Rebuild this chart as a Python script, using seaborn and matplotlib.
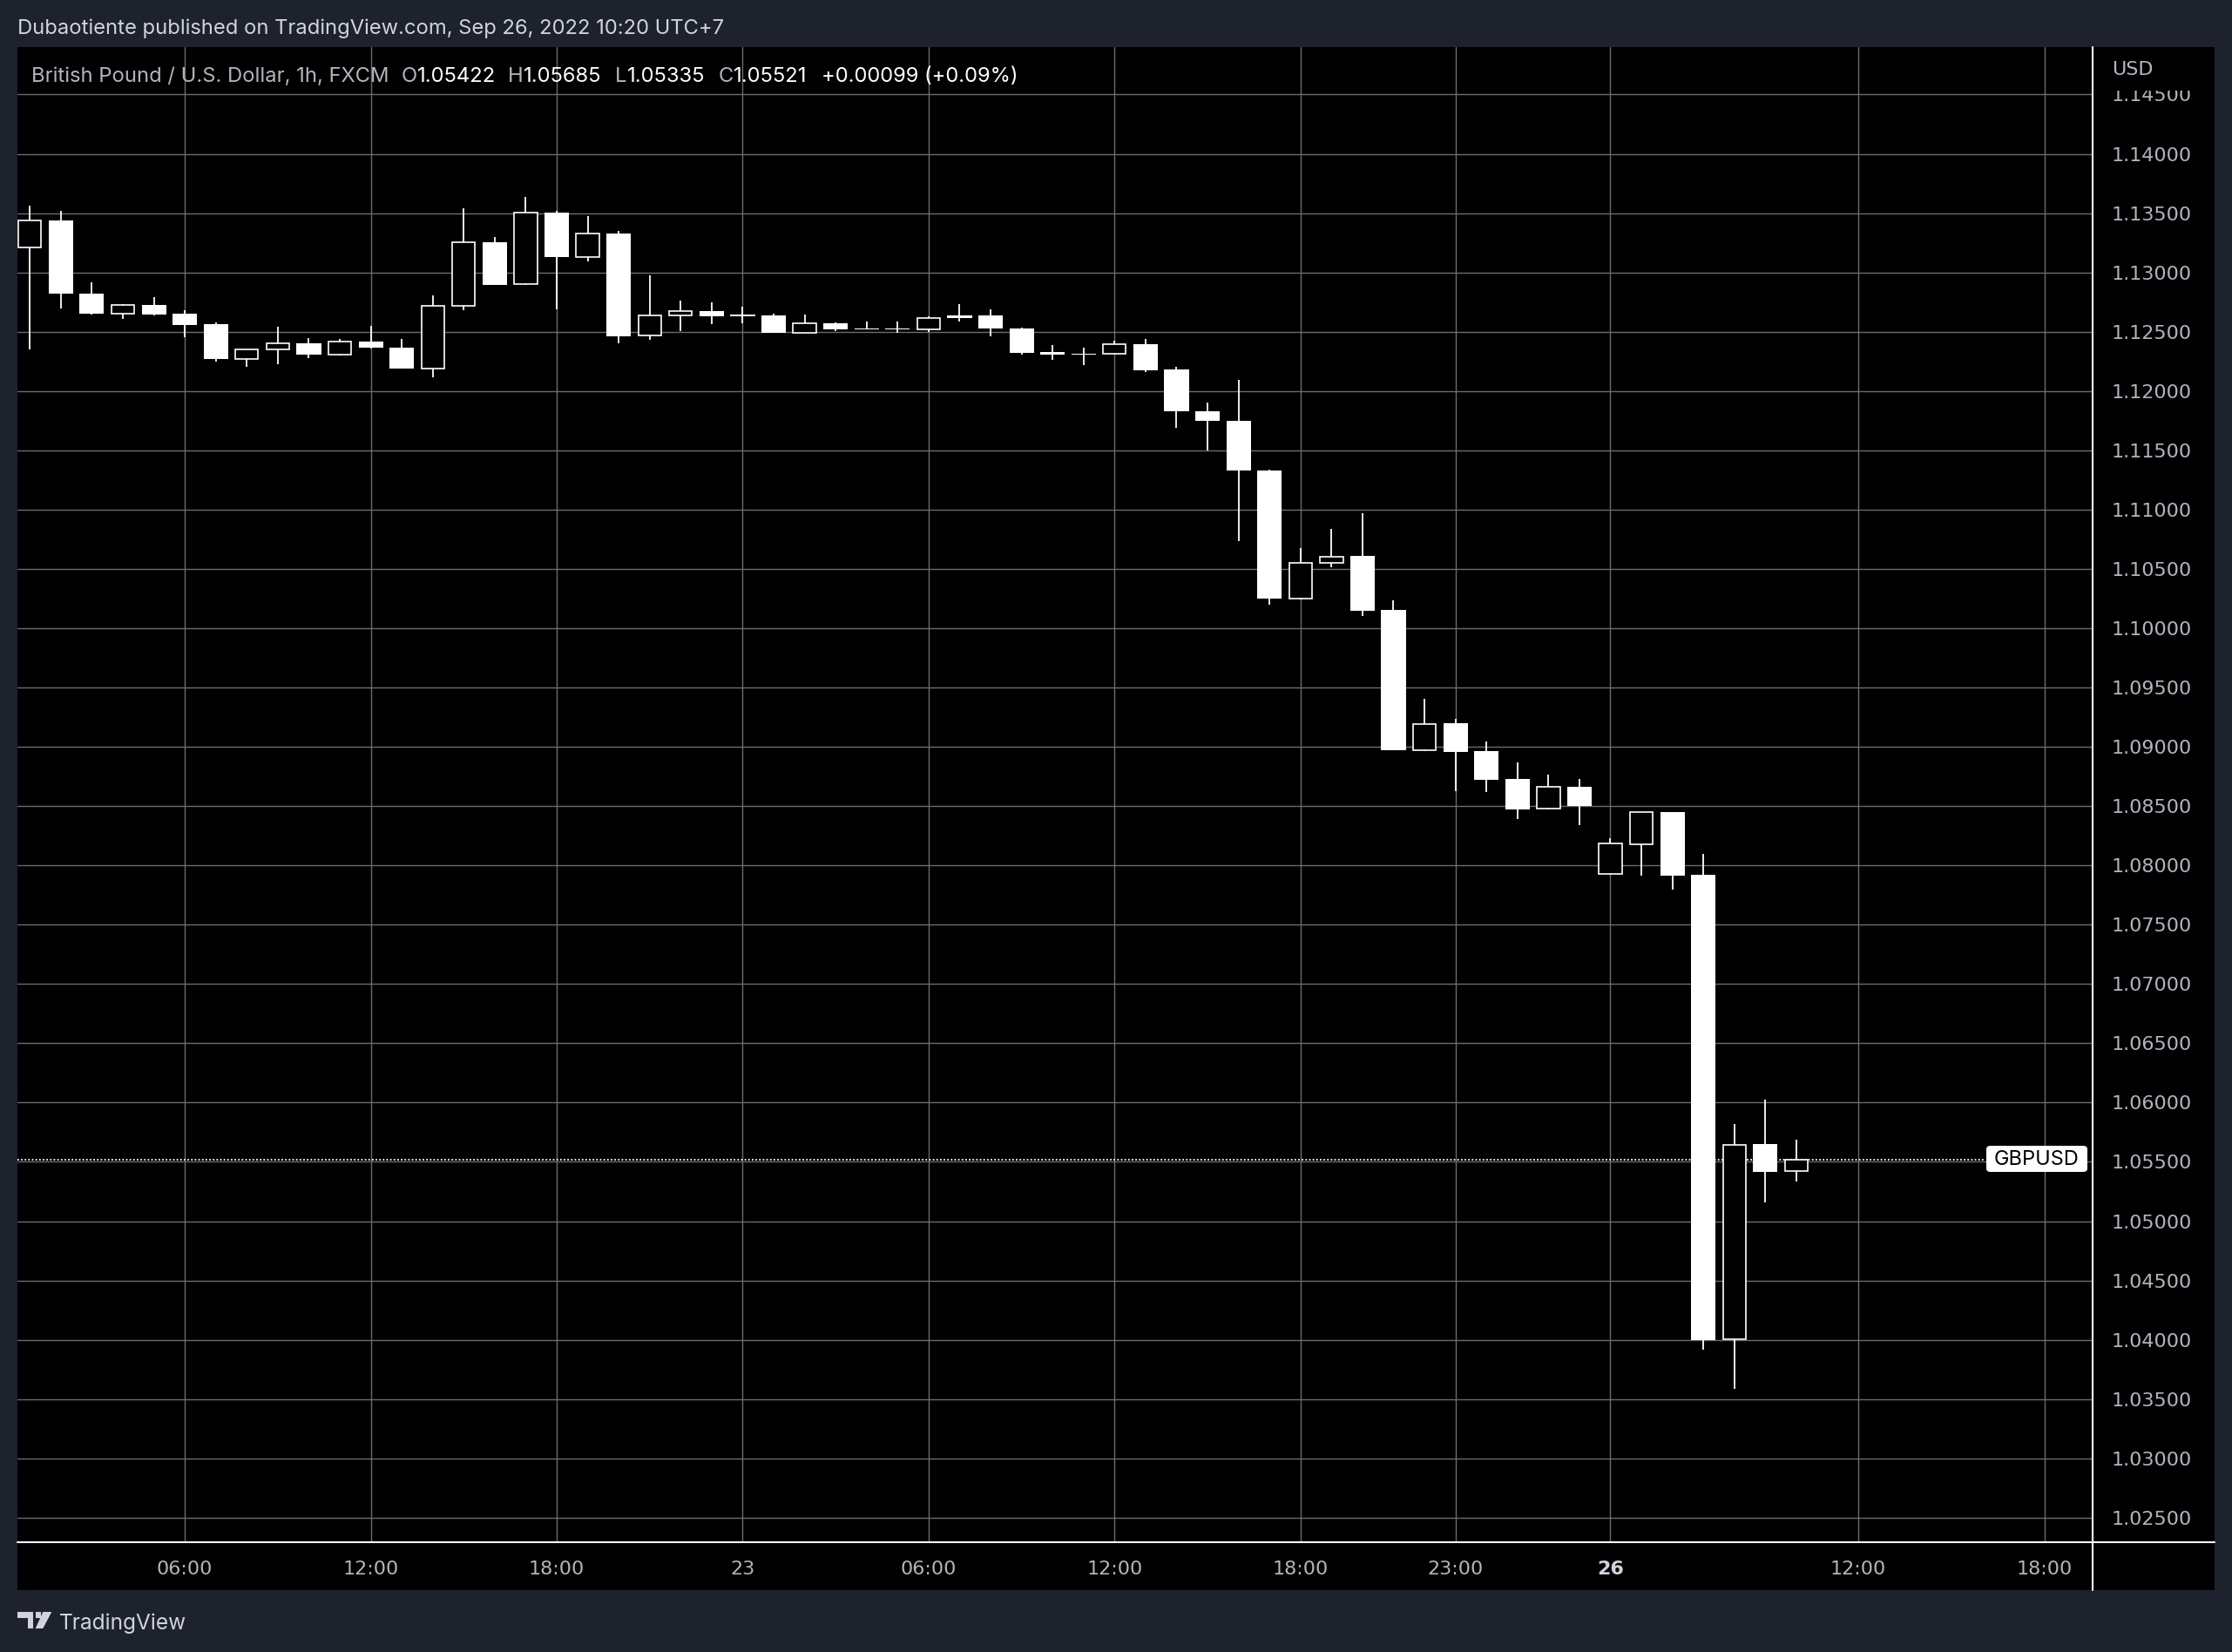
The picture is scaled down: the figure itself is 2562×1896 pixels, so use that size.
import numpy as np
import pandas as pd
import seaborn as sns
import matplotlib
matplotlib.use("Agg")
import matplotlib.pyplot as plt
from matplotlib.patches import Rectangle, Polygon, FancyBboxPatch
from matplotlib.lines import Line2D

# ---------------- data (GBPUSD 1h, FXCM) ----------------
opens = [1.13209, 1.13439, 1.12823, 1.12649, 1.12727, 1.12654, 1.12566, 1.12270, 1.12351, 1.12405,
         1.12304, 1.12419, 1.12368, 1.12187, 1.12715, 1.13256, 1.12899, 1.13505, 1.13133, 1.13329,
         1.12466, 1.12634, 1.12676, 1.12644, 1.12639, 1.12490, 1.12573, 1.12529, 1.12527, 1.12517,
         1.12637, 1.12637, 1.12529, 1.12331, 1.12317, 1.12312, 1.12394, 1.12183, 1.11831, 1.11751,
         1.11333, 1.10252, 1.10553, 1.10606, 1.10152, 1.08974, 1.09197, 1.08962, 1.08727, 1.08476,
         1.08661, 1.07925, 1.08180, 1.08449, 1.07921, 1.04002, 1.05650, 1.05422]
highs = [1.13564, 1.13520, 1.12918, 1.12735, 1.12793, 1.12683, 1.12581, 1.12353, 1.12544, 1.12449,
         1.12441, 1.12551, 1.12441, 1.12808, 1.13542, 1.13300, 1.13637, 1.13520, 1.13476, 1.13351,
         1.12977, 1.12764, 1.12749, 1.12713, 1.12654, 1.12647, 1.12581, 1.12588, 1.12588, 1.12630,
         1.12735, 1.12691, 1.12537, 1.12390, 1.12368, 1.12427, 1.12440, 1.12205, 1.11905, 1.12095,
         1.11335, 1.10672, 1.10834, 1.10966, 1.10232, 1.09402, 1.09238, 1.09043, 1.08867, 1.08764,
         1.08727, 1.08229, 1.08448, 1.08451, 1.08099, 1.05819, 1.06025, 1.05685]
lows = [1.12348, 1.12698, 1.12645, 1.12605, 1.12634, 1.12451, 1.12246, 1.12202, 1.12224, 1.12275,
        1.12302, 1.12360, 1.12186, 1.12114, 1.12678, 1.12895, 1.12897, 1.12691, 1.13094, 1.12405,
        1.12434, 1.12502, 1.12566, 1.12573, 1.12487, 1.12488, 1.12507, 1.12516, 1.12493, 1.12500,
        1.12588, 1.12463, 1.12309, 1.12260, 1.12221, 1.12310, 1.12156, 1.11687, 1.11496, 1.10733,
        1.10198, 1.10244, 1.10513, 1.10105, 1.08970, 1.08965, 1.08625, 1.08617, 1.08390, 1.08474,
        1.08339, 1.07923, 1.07913, 1.07798, 1.03920, 1.03583, 1.05159, 1.05335]
closes = [1.13436, 1.12818, 1.12650, 1.12722, 1.12647, 1.12559, 1.12268, 1.12351, 1.12402, 1.12304,
          1.12417, 1.12363, 1.12189, 1.12718, 1.13251, 1.12898, 1.13502, 1.13131, 1.13326, 1.12463,
          1.12634, 1.12674, 1.12632, 1.12630, 1.12490, 1.12571, 1.12517, 1.12519, 1.12519, 1.12615,
          1.12612, 1.12524, 1.12324, 1.12304, 1.12304, 1.12395, 1.12178, 1.11826, 1.11746, 1.11328,
          1.10249, 1.10550, 1.10601, 1.10147, 1.08972, 1.09194, 1.08957, 1.08722, 1.08471, 1.08659,
          1.08500, 1.08185, 1.08446, 1.07913, 1.03995, 1.05646, 1.05418, 1.05521]

time_tick_pos = [5, 11, 17, 23, 29, 35, 41, 46, 51, 59, 65]
time_tick_labels = ["06:00", "12:00", "18:00", "23", "06:00", "12:00", "18:00", "23:00", "26", "12:00", "18:00"]
price_ticks = [round(1.025 + 0.005 * k, 3) for k in range(25)]

header_text = "Dubaotiente published on TradingView.com, Sep 26, 2022 10:20 UTC+7"
symbol_text = "British Pound / U.S. Dollar, 1h, FXCM"
ohlc_letters = ["O", "H", "L", "C"]
ohlc_values = ["1.05422", "1.05685", "1.05335", "1.05521"]
change_text = "+0.00099 (+0.09%)"

# ---------------- styling ----------------
W, H = 2562, 1896
BG = "#1e222d"
GRAY = "#b2b5be"
LIGHT = "#d1d4dc"

sns.set_style("dark", {"axes.facecolor": "black", "figure.facecolor": BG})
plt.rcParams["font.family"] = ["DejaVu Sans"]

fig = plt.figure(figsize=(W / 100, H / 100), dpi=100)
fig.patch.set_facecolor(BG)


def fx(x):
    return x / W


def fy(y):
    return 1 - y / H


# black chart panel (plot + scales)
fig.add_artist(Rectangle((fx(20), fy(1825)), (2542 - 20) / W, (1825 - 54) / H,
                         transform=fig.transFigure, facecolor="black", edgecolor="none", zorder=-5))

ax = fig.add_axes([fx(20), fy(1770), (2402 - 20) / W, (1770 - 54) / H])
ax.set_facecolor("black")

df = pd.DataFrame({"open": opens, "high": highs, "low": lows, "close": closes})
df["i"] = np.arange(len(df))
up = df["close"] >= df["open"]

# wicks
ax.vlines(df["i"], df["low"], df["high"], color="white", lw=1.3, zorder=3)
# bearish (filled) bodies
dn = df[~up]
ax.bar(dn["i"], dn["open"] - dn["close"], bottom=dn["close"], width=0.79,
       color="white", linewidth=0, zorder=4)
# bullish (hollow) bodies
u = df[up]
ax.bar(u["i"], u["close"] - u["open"], bottom=u["open"], width=0.74,
       facecolor="black", edgecolor="white", linewidth=1.2, zorder=4)

last_close = closes[-1]
ax.axhline(last_close, xmin=0, xmax=(2279 - 20) / (2402 - 20), color="white",
           lw=1.3, ls=(0, (1, 1.3)), zorder=2.5)

ax.set_xlim(-0.402, 66.56)
ax.set_ylim(1.02293, 1.14900)

ax.set_xticks(time_tick_pos)
ax.set_xticklabels(time_tick_labels)
ax.set_yticks(price_ticks)
ax.set_yticklabels([f"{v:.5f}" for v in price_ticks])
ax.yaxis.tick_right()
ax.tick_params(axis="y", length=0, pad=15.5, labelsize=16, labelcolor=GRAY)
ax.tick_params(axis="x", length=0, pad=15, labelsize=16, labelcolor=GRAY)
for lab in ax.get_xticklabels():
    if lab.get_text() == "26":
        lab.set_fontweight("bold")
        lab.set_color(LIGHT)
ax.grid(True, color="#6c6c6c", lw=1.0)
ax.set_axisbelow(True)
for s in ax.spines.values():
    s.set_visible(False)

# separators
fig.add_artist(Line2D([fx(2402), fx(2402)], [fy(54), fy(1825)], color="white", lw=1.5,
                      transform=fig.transFigure, zorder=6))
fig.add_artist(Line2D([fx(20), fx(2542)], [fy(1770), fy(1770)], color="white", lw=1.5,
                      transform=fig.transFigure, zorder=6))

# clip top price label behind the currency caption
fig.add_artist(Rectangle((fx(2404), fy(104)), (2541 - 2404) / W, (104 - 55) / H,
                         transform=fig.transFigure, facecolor="black", edgecolor="none", zorder=8))
fig.text(fx(2424), fy(80), "USD", color=GRAY, fontsize=16, ha="left", va="center", zorder=9)

# last price label
fig.add_artist(FancyBboxPatch((fx(2280), fy(1345)), (2396 - 2280) / W, (1345 - 1315) / H,
                              boxstyle="round,pad=0,rounding_size=0.002",
                              transform=fig.transFigure, facecolor="white", edgecolor="none", zorder=9))

renderer = fig.canvas.get_renderer()
UI = ["Inter", "DejaVu Sans"]


def fit_text(x0, x1, y, s, color, family=UI, va="center", weight="normal", zorder=10):
    t = fig.text(fx(x0), fy(y), s, fontsize=20, color=color, family=family,
                 ha="left", va=va, fontweight=weight, zorder=zorder)
    w = t.get_window_extent(renderer=renderer).width
    t.set_fontsize(20 * (x1 - x0) / w)
    return t


def put(x0, y, s, color, fs, family=UI, zorder=10):
    t = fig.text(fx(x0), fy(y), s, fontsize=fs, color=color, family=family,
                 ha="left", va="center", zorder=zorder)
    return t, t.get_window_extent(renderer=renderer).width


fit_text(2338 - 49, 2338 + 49, 1331, "GBPUSD", "black", zorder=10)

# header
fit_text(20, 830, 33, header_text, LIGHT)

# legend line
sym = fit_text(36, 446, 88, symbol_text, GRAY)
lfs = sym.get_fontsize()
for x0, letter, val in zip([461, 583, 706, 825], ohlc_letters, ohlc_values):
    _, wl = put(x0, 88, letter, GRAY, lfs)
    put(x0 + wl, 88, val, "white", lfs)
put(943, 88, change_text, "white", lfs)

# footer brand
fit_text(68, 214, 1863, "TradingView", LIGHT)
logo_c = LIGHT
fig.add_artist(Rectangle((fx(20), fy(1857)), 18 / W, 7 / H, transform=fig.transFigure,
                         facecolor=logo_c, edgecolor="none"))
fig.add_artist(Rectangle((fx(31.5), fy(1869)), 6.5 / W, 19 / H, transform=fig.transFigure,
                         facecolor=logo_c, edgecolor="none"))
fig.add_artist(Polygon([(fx(49.3), fy(1850)), (fx(59.3), fy(1850)), (fx(49.3), fy(1869)),
                        (fx(40.7), fy(1869))], closed=True, transform=fig.transFigure,
                       facecolor=logo_c, edgecolor="none"))
fig.add_artist(Rectangle((fx(40.5), fy(1857)), 6.5 / W, 7 / H, transform=fig.transFigure,
                         facecolor=logo_c, edgecolor="none"))

fig.savefig("out.png", dpi=100, facecolor=BG)
